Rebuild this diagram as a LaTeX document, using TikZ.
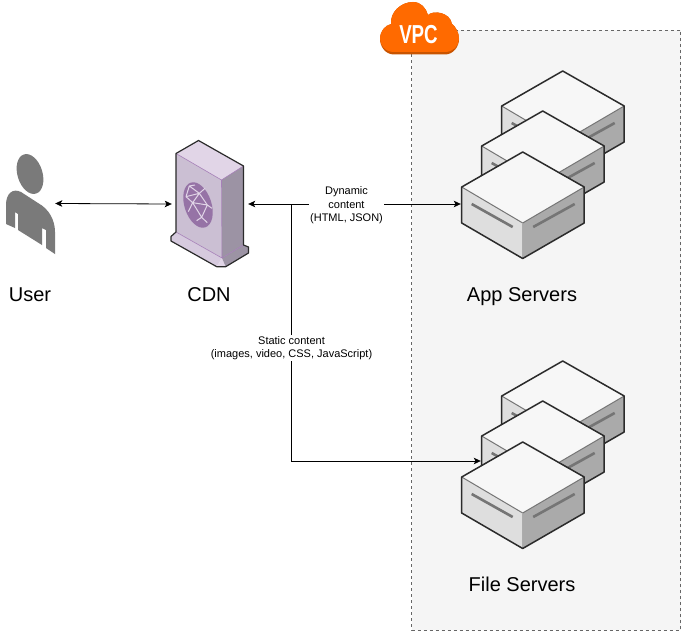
\documentclass[tikz,border=0pt]{standalone}
\usepackage{fontspec}
\usepackage{graphicx}
\setmainfont{Liberation Sans}
\usetikzlibrary{arrows.meta}
\definecolor{panelfill}{HTML}{F5F5F5}
\definecolor{paneldash}{HTML}{666666}
\definecolor{edgedark}{HTML}{2B2B2B}
\definecolor{facetop}{HTML}{F7F7F7}
\definecolor{faceleft}{HTML}{DEDEDE}
\definecolor{faceright}{HTML}{AAAAAA}
\definecolor{slotgrey}{HTML}{757575}
\definecolor{cdnfront}{HTML}{CBBFD3}
\definecolor{cdnbase}{HTML}{D6CADE}
\definecolor{cdnside}{HTML}{9C93A4}
\definecolor{cdntop}{HTML}{E1D5E7}
\definecolor{cdnline}{HTML}{A680B8}
\definecolor{cdnglobe}{HTML}{9673A6}
\definecolor{usergrey}{HTML}{7A7A7A}
\definecolor{vpcorange}{HTML}{FF6A00}
\definecolor{vpcshade}{HTML}{C95400}
\tikzset{
  x=1pt,y=-1pt,
  conn/.style={draw=black,line width=0.8pt,{Stealth[length=7pt,width=6.5pt,inset=1.6pt]}-{Stealth[length=7pt,width=6.5pt,inset=1.6pt]}},
  connone/.style={draw=black,line width=0.8pt,-{Stealth[length=7pt,width=6.5pt,inset=1.6pt]}},
  biglabel/.style={font=\fontsize{20}{23}\selectfont,text=black,inner sep=0pt},
  smalllabel/.style={font=\fontsize{11}{13.6}\selectfont,align=center,text=black,fill=white,inner sep=1pt},
  anchorpt/.style={inner sep=0pt,minimum size=0pt},
  pics/serverbox/.style={code={
    \fill[faceleft] (-61,0) -- (0,36) -- (0,71.5) -- (-61,36) -- cycle;
    \fill[faceright] (61.5,0) -- (0,36) -- (0,71.5) -- (61.5,36) -- cycle;
    \fill[facetop] (0,-35) -- (61.5,0) -- (0,36) -- (-61,0) -- cycle;
    \draw[slotgrey,line width=1pt] (-61,0) -- (0,36) -- (61.5,0);
    \draw[slotgrey!60,line width=0.8pt] (0,36) -- (0,71.5);
    \draw[slotgrey,line width=2.6pt] (-51,17) -- (-10,40);
    \draw[slotgrey,line width=2.6pt] (10.5,40) -- (52,17);
    \draw[edgedark,line width=1.5pt,line join=round] (0,-35) -- (61.5,0) -- (61.5,36) -- (0,71.5) -- (-61,36) -- (-61,0) -- cycle;
  }}
}
\begin{document}
\begin{tikzpicture}
\useasboundingbox (0,0) rectangle (682,631);
\fill[white] (0,0) rectangle (682,631);
% panel
\draw[fill=panelfill,draw=paneldash,dashed,line width=0.7pt] (411.5,30) rectangle (680.5,630);
% cloud
\fill[vpcshade] (394,54.5) .. controls (385,54.5) and (380,46) .. (380,39) .. controls (380,31) and (385,25.5) .. (391,24) .. controls (390,12) and (401,2) .. (413,2) .. controls (421,2) and (426,8) .. (428,15) .. controls (433,10) and (450,12) .. (452,24) .. controls (456,27) and (459,33) .. (459,39) .. controls (459,47) and (453,54.5) .. (445,54.5) -- cycle;
\fill[vpcorange] (394,52) .. controls (385,52) and (380,45) .. (380,39) .. controls (380,31) and (385,25.5) .. (391,24) .. controls (390,12) and (401,2) .. (413,2) .. controls (421,2) and (426,8) .. (428,15) .. controls (433,10) and (450,12) .. (452,24) .. controls (456,27) and (459,33) .. (459,39) .. controls (459,46) and (453,52) .. (445,52) -- cycle;
\node[font=\fontsize{26}{28}\bfseries\selectfont,text=white,inner sep=0pt] (vpc) at (418.5,34.5) {\scalebox{0.72}[1]{VPC}};
% user
\fill[usergrey,rotate around={17:(30,174)}] (30,174) ellipse (12.5 and 20.5);
\fill[usergrey] (6,205) .. controls (6,193) and (13,188) .. (21,192) -- (38,203) .. controls (49,209) and (55,220) .. (55,232) -- (55,254) -- (46,248) -- (46,230) -- (42,228) -- (42,245) -- (18,230) -- (18,214) -- (15,212) -- (15,228) -- (6,224) -- cycle;
% CDN
\coordinate (cdnA) at (176,153.5);
\coordinate (cdnB) at (198.5,140.5);
\coordinate (cdnC) at (243.5,166);
\coordinate (cdnD) at (221.5,180);
\coordinate (cdnE) at (222,258);
\coordinate (cdnF) at (176,232);
\coordinate (cdnG) at (243.5,245);
\fill[cdntop] (cdnA) -- (cdnB) -- (cdnC) -- (cdnD) -- cycle;
\fill[cdnfront] (cdnA) -- (cdnD) -- (cdnE) -- (cdnF) -- cycle;
\fill[cdnside] (cdnD) -- (cdnC) -- (cdnG) -- (cdnE) -- cycle;
\fill[cdnbase] (cdnF) -- (171,236.5) -- (171,241) -- (216.7,266.7) -- (cdnE) -- cycle;
\fill[cdntop] (cdnE) -- (216.7,266.7) -- (225.7,266.7) -- cycle;
\fill[cdnside] (cdnG) -- (248.5,247) -- (248.5,253) -- (225.7,266.7) -- (cdnE) -- cycle;
\draw[cdnline,line width=0.6pt] (cdnA) -- (cdnD) -- (cdnC) (cdnD) -- (cdnE) -- (cdnF) (cdnE) -- (cdnG);
\draw[edgedark,line width=1.2pt,line join=round] (cdnF) -- (cdnA) -- (cdnB) -- (cdnC) -- (cdnG) -- (248.5,247) -- (248.5,253) -- (225.7,266.7) -- (216.7,266.7) -- (171,241) -- (171,236.5) -- cycle;
\fill[cdnglobe,rotate around={18:(198,205)}] (198,205) ellipse (13.5 and 23.5);
\begin{scope}[shift={(150,130)},x=0.3333pt,y=-0.3333pt]
\draw[cdntop,line width=1pt,line join=round]
 (118,168) -- (108,200) -- (148,190) -- cycle
 (148,190) -- (128,218) -- (108,200)
 (148,190) -- (165,175)
 (148,190) -- (172,225) -- (128,218)
 (128,218) -- (115,245) (128,218) -- (155,262) -- (172,225)
 (155,262) -- (140,272) (172,225) -- (186,235) (155,262) -- (172,278)
 (118,168) -- (135,165);
\end{scope}
% servers
\pic at (562.7,106) {serverbox};
\pic at (542.7,146) {serverbox};
\pic (app) at (522.7,187) {serverbox};
\pic at (562.7,396) {serverbox};
\pic at (542.7,436) {serverbox};
\pic (file) at (522.7,477) {serverbox};
% anchors
\node[anchorpt] (userR) at (55,203.5) {};
\node[anchorpt] (cdnL) at (172,204) {};
\node[anchorpt] (cdnR) at (248,204) {};
\node[anchorpt] (appL) at (461,204) {};
\node[anchorpt] (fileL) at (481,461) {};
\coordinate (jun) at (291.5,204);
% connectors
\draw[conn] (userR) -- (cdnL);
\draw[conn] (cdnR) -- (appL);
\draw[connone] (jun) |- (fileL);
% labels
\node[smalllabel] (dyn) at (346.5,205.5) {Dynamic\\content\\(HTML, JSON)};
\node[smalllabel] (stat) at (291.5,348) {Static content\\(images, video, CSS, JavaScript)};
\node[biglabel] (userlabel) at (30,295) {User};
\node[biglabel] (cdnlabel) at (209,295) {CDN};
\node[biglabel] (applabel) at (522,296.5) {App Servers};
\node[biglabel] (filelabel) at (522,584.5) {File Servers};
\end{tikzpicture}
\end{document}
